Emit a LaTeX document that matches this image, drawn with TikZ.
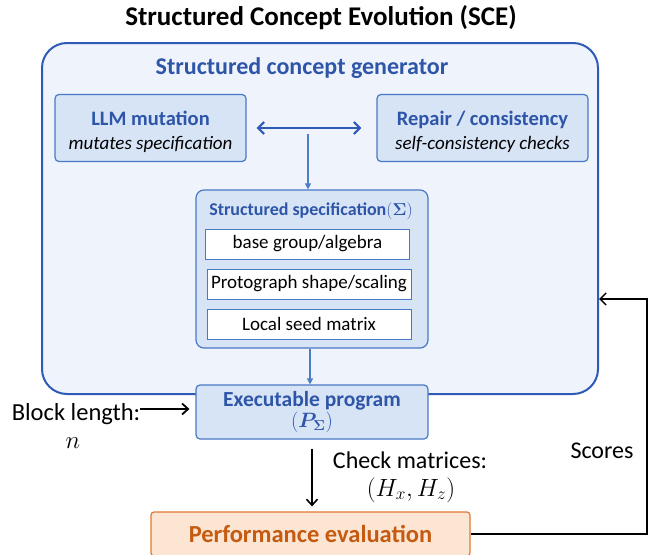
\documentclass[tikz,border=0pt]{standalone}
\usepackage{amsmath,bm}
\usepackage{fontspec}
\setmainfont{Carlito}
\usetikzlibrary{arrows.meta,calc}
\definecolor{outerfill}{HTML}{EEF3FC}
\definecolor{outerdraw}{HTML}{2F5BB8}
\definecolor{boxfill}{HTML}{D6E4F6}
\definecolor{boxdraw}{HTML}{4A78C6}
\definecolor{bluetext}{HTML}{2E55A8}
\definecolor{arrowblue}{HTML}{4D7EC2}
\definecolor{dblblue}{HTML}{2F5BB8}
\definecolor{perffill}{HTML}{FCE5D3}
\definecolor{perfdraw}{HTML}{E07A34}
\definecolor{perftext}{HTML}{C55A11}
\newcommand{\fs}[1]{\fontsize{#1}{#1}\selectfont}
\tikzset{
  outerbox/.style={draw=outerdraw, fill=outerfill, line width=2pt, rounded corners=25pt, inner sep=0pt},
  bluebox/.style={draw=boxdraw, fill=boxfill, line width=1.2pt, rounded corners=4pt, inner sep=0pt, align=center},
  specbox/.style={draw=boxdraw, fill=boxfill, line width=1.2pt, rounded corners=8pt, inner sep=0pt},
  whitebox/.style={draw=boxdraw, fill=white, line width=1pt, inner sep=0pt, minimum width=204pt, minimum height=30pt, font=\fs{19}},
  perfbox/.style={draw=perfdraw, fill=perffill, line width=1.2pt, rounded corners=3pt, inner sep=0pt},
  lbl/.style={inner sep=0pt, align=center},
  headtxt/.style={inner sep=0pt, anchor=base, font=\fs{20.5}\bfseries, text=bluetext},
  subtxt/.style={inner sep=0pt, anchor=base, font=\fs{19}\itshape},
  thinarrow/.style={draw=arrowblue, line width=1.3pt, -{Triangle[length=6pt,width=6pt]}},
  dblarrow/.style={draw=dblblue, line width=2.2pt, {Straight Barb[length=6pt,width=12pt]}-{Straight Barb[length=6pt,width=12pt]}},
  blkarrow/.style={draw=black, line width=1.8pt, -{Straight Barb[length=6pt,width=11pt]}},
  fbarrow/.style={draw=black, line width=1.5pt, -{Straight Barb[length=6pt,width=12pt]}}
}
\begin{document}
\begin{tikzpicture}[x=1pt,y=-1pt]
\useasboundingbox (0,0) rectangle (660,554);
\node[lbl, font=\fs{27}\bfseries] (title) at (321,18) {Structured Concept Evolution (SCE)};
\node[outerbox, minimum width=556pt, minimum height=351pt] (outer) at (320,218.5) {};
\node[lbl, font=\fs{24}\bfseries, text=bluetext] (gen) at (302,68) {Structured concept generator};
\node[bluebox, minimum width=191pt, minimum height=67pt] (llm) at (150.5,128) {};
\node[headtxt] (llmh) at ([yshift=3pt]llm.center) {LLM mutation};
\node[subtxt] (llms) at ([yshift=-21pt]llm.center) {mutates specification};
\node[bluebox, minimum width=211pt, minimum height=67pt] (rep) at (482.5,128) {};
\node[headtxt] (reph) at ([yshift=3pt]rep.center) {Repair / consistency};
\node[subtxt] (reps) at ([yshift=-21pt]rep.center) {self-consistency checks};
\draw[dblarrow, shorten <=10pt, shorten >=15pt] (llm) -- (rep);
\node[specbox, minimum width=232pt, minimum height=158pt] (spec) at (312,269) {};
\coordinate (jn) at (308,134);
\draw[thinarrow] (jn) -- (jn |- spec.north);
\node[lbl, font=\fs{18}\bfseries, text=bluetext] (spect) at (311,211) {Structured specification$(\bm{\Sigma})$};
\node[whitebox] (b1) at (307.5,244) {base group/algebra};
\node[whitebox] (b2) at (309,284) {Protograph shape/scaling};
\node[whitebox] (b3) at (309,324) {Local seed matrix};
\node[bluebox, minimum width=232pt, minimum height=54pt] (exec) at (312,412) {{\fs{21.5}\bfseries\color{bluetext}Executable program}\\[1pt]{\fs{21.5}\bfseries\color{bluetext}$(\bm{P}_{\bm{\Sigma}})$}};
\draw[thinarrow] (spec.south -| 310,0) -- (exec.north -| 310,0);
\node[lbl, font=\fs{24.5}] (bl) at (76,414) {Block length:};
\node[lbl, font=\fs{24}] (n) at (73,443) {$n$};
\draw[blkarrow, shorten >=6pt] ([yshift=5pt]bl.east) -- ([yshift=5pt]bl.east -| exec.west);
\node[perfbox, minimum width=319pt, minimum height=44pt, font=\fs{24.5}\bfseries, text=perftext] (perf) at (310.5,534) {Performance evaluation};
\draw[blkarrow, line width=1.6pt, shorten <=9pt, shorten >=5pt] (exec.south -| 312,0) -- (perf.north -| 312,0);
\node[lbl, font=\fs{24}] (chk) at (410,460) {Check matrices:};
\node[lbl, font=\fs{24}] (hxz) at (411,490) {$(H_x,H_z)$};
\node[lbl, font=\fs{24}] (sc) at (602,451) {Scores};
\coordinate (fbr) at (647,299);
\draw[fbarrow] (perf.east) -| (fbr) -- (fbr -| outer.east);
\end{tikzpicture}
\end{document}
